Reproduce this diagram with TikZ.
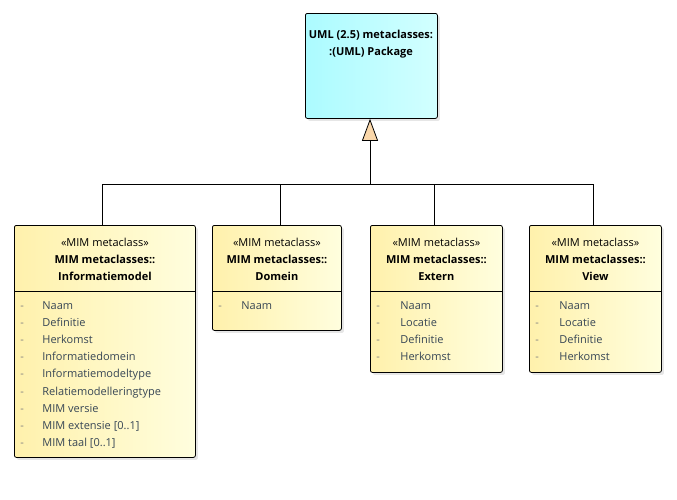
\documentclass[tikz,border=0pt]{standalone}
\usepackage{fontspec}
\setmainfont{Open Sans}
\usetikzlibrary{arrows.meta,shadows}

\definecolor{klgeel}{RGB}{255,241,172}
\definecolor{klgeellicht}{RGB}{255,254,222}
\definecolor{pkcyaan}{RGB}{172,251,255}
\definecolor{pkcyaanlicht}{RGB}{210,255,255}
\definecolor{attrkleur}{RGB}{55,70,85}
\definecolor{pijlvul}{RGB}{250,215,170}

\begin{document}
\begin{tikzpicture}[x=1pt, y=-1pt, line width=0.8pt,
  every node/.style={font=\fontsize{11}{17}\selectfont},
  klasse/.style={draw, rounded corners=2pt, anchor=north west, inner sep=0pt,
    left color=klgeel, right color=klgeellicht,
    drop shadow={opacity=0.2, shadow xshift=2.5pt, shadow yshift=-2.5pt}},
  pakket/.style={klasse, left color=pkcyaan, right color=pkcyaanlicht},
  kop/.style={align=center, inner sep=0pt, anchor=north},
  attr/.style={anchor=base west, inner sep=0pt, text=attrkleur},
  gen/.style={-{Triangle[length=22pt, width=16pt, fill=pijlvul, line width=0.8pt]}}]
  \useasboundingbox (0,0) rectangle (677,499);

  % package
  \node[pakket, minimum width=132pt, minimum height=105pt] (pkg) at (305,13) {};
  \node[kop] (pkg-t) at (371,30) {\textbf{UML (2.5) metaclasses:}\\\textbf{:(UML) Package}};

  % classes
  \node[klasse, minimum width=181pt, minimum height=232pt] (im) at (14,225) {};
  \node[klasse, minimum width=129pt, minimum height=105pt] (dom) at (212,225) {};
  \node[klasse, minimum width=132pt, minimum height=147pt] (ext) at (370,225) {};
  \node[klasse, minimum width=132pt, minimum height=147pt] (view) at (529,225) {};

  \foreach \k/\naam in {im/Informatiemodel, dom/Domein, ext/Extern, view/View} {
    \node[kop] (\k-t) at ([yshift=-13pt]\k.north) {«MIM metaclass»\\\textbf{MIM metaclasses::}\\\textbf{\naam}};
    \draw ([yshift=-66pt]\k.north west) -- ([yshift=-66pt]\k.north east);
  }

  % attributes
  \foreach \a [count=\i] in {Naam, Definitie, Herkomst, Informatiedomein, Informatiemodeltype,
    Relatiemodelleringtype, MIM versie, MIM extensie [0..1], MIM taal [0..1]} {
    \node[attr, text=gray] (im-s\i) at (20,{309+17.2*(\i-1)}) {-};
    \node[attr] (im-a\i) at (42,{309+17.2*(\i-1)}) {\a};
  }
  \node[attr, text=gray] (dom-s1) at (218,309) {-};
  \node[attr] (dom-a1) at (241,309) {Naam};
  \foreach \k/\x in {ext/376, view/535} {
    \foreach \a [count=\i] in {Naam, Locatie, Definitie, Herkomst} {
      \node[attr, text=gray] (\k-s\i) at (\x,{309+17.2*(\i-1)}) {-};
      \node[attr] (\k-a\i) at (\x+24,{309+17.2*(\i-1)}) {\a};
    }
  }

  % generalisation
  \coordinate (hub) at (370,184);
  \draw[gen] (hub) -- (pkg.south -| hub);
  \draw ([xshift=-3pt]im.north) |- (hub);
  \draw ([xshift=3pt]dom.north) |- (hub);
  \draw ([xshift=-2pt]ext.north) |- (hub);
  \draw ([xshift=-2pt]view.north) |- (hub);
\end{tikzpicture}
\end{document}
